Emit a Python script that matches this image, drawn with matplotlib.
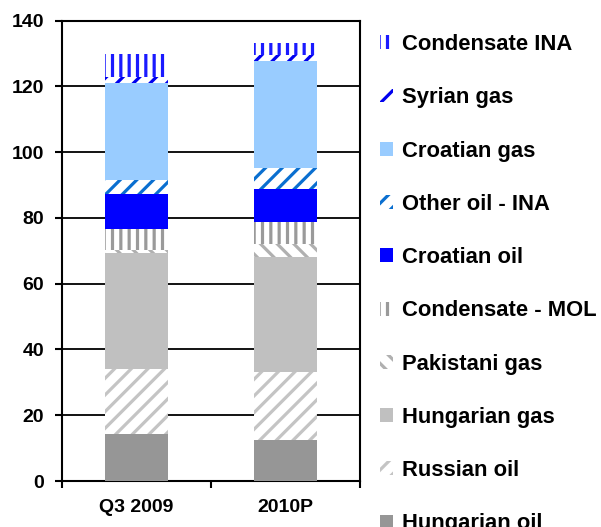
import matplotlib.pyplot as plt
import numpy as np

# Datos
categories = ["Q3 2009", "2010P"]
hungarian_oil = [14.3, 12.5]
russian_oil = [19.8, 20.7]
hungarian_gas = [35.2, 35.0]
pakistani_gas = [1.0, 4.0]
condensate_mol = [6.3, 6.6]
croatian_oil = [10.6, 10.0]
other_oil_ina = [4.4, 6.3]
croatian_gas = [29.4, 32.6]
syrian_gas = [1.8, 1.8]
condensate_ina = [6.9, 3.7]

series = [
    ("Hungarian oil", hungarian_oil, "#969696", None, None),
    ("Russian oil", russian_oil, "white", "//", "#c4c4c4"),
    ("Hungarian gas", hungarian_gas, "#c0c0c0", None, None),
    ("Pakistani gas", pakistani_gas, "white", "\\\\", "#b0b0b0"),
    ("Condensate - MOL", condensate_mol, "white", "||", "#9a9a9a"),
    ("Croatian oil", croatian_oil, "#0000ff", None, None),
    ("Other oil - INA", other_oil_ina, "white", "//", "#0a6fd0"),
    ("Croatian gas", croatian_gas, "#99ccff", None, None),
    ("Syrian gas", syrian_gas, "white", "//", "#0000ee"),
    ("Condensate INA", condensate_ina, "white", "||", "#1a1aff"),
]

plt.rcParams["font.family"] = ["Liberation Sans", "DejaVu Sans"]
plt.rcParams["font.weight"] = "bold"
plt.rcParams["hatch.linewidth"] = 2.3

fig = plt.figure(figsize=(6.01, 5.27), dpi=100)
ax = fig.add_axes([62 / 601, 1 - 481 / 527, 298 / 601, 460.5 / 527])

x = np.arange(len(categories))
bottom = np.zeros(len(categories))
handles = []
for name, vals, face, hatch, hcolor in series:
    if hatch:
        b = ax.bar(x, vals, 0.42, bottom=bottom, color=face, hatch=hatch,
                   edgecolor=hcolor, linewidth=0, label=name, zorder=3)
    else:
        b = ax.bar(x, vals, 0.42, bottom=bottom, color=face,
                   linewidth=0, label=name, zorder=3)
    handles.append(b)
    bottom += np.array(vals)

ax.set_xlim(-0.5, 1.5)
ax.set_ylim(0, 140)
ax.set_yticks(np.arange(0, 141, 20))
ax.yaxis.grid(True, color="black", linewidth=1.3, zorder=0)
ax.set_axisbelow(True)

ax.set_xticks([-0.5, 0.5, 1.5])
ax.set_xticklabels([])
ax.set_xticks(x, minor=True)
ax.set_xticklabels(categories, minor=True)
ax.tick_params(axis="x", which="major", direction="out", length=5, width=1.5)
ax.tick_params(axis="x", which="minor", length=0, pad=13, labelsize=14)
ax.tick_params(axis="y", direction="out", length=5, width=1.5, pad=8, labelsize=14)

for sp in ax.spines.values():
    sp.set_linewidth(1.5)
    sp.set_color("black")

fig.legend(handles[::-1], [s[0] for s in series][::-1],
           loc="upper left", bbox_to_anchor=(380 / 601, 1 - 34 / 527),
           frameon=False, fontsize=15.8, handlelength=0.6, handleheight=0.6,
           handletextpad=0.4, labelspacing=1.47, borderaxespad=0, borderpad=0)

fig.savefig("out.png", dpi=100)
